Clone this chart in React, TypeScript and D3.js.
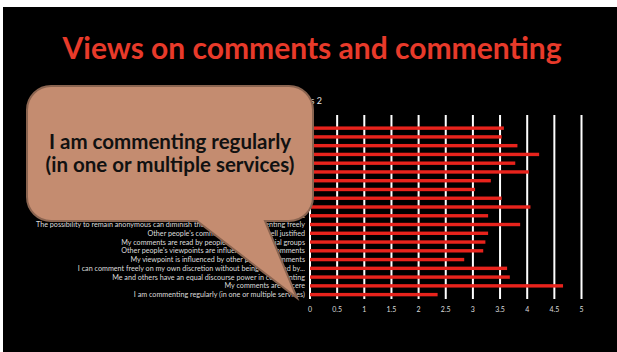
import React from "react";
import * as d3 from "d3";

const title = "Views on comments and commenting";
const chartTitle = "Series 2";
const calloutLines = ["I am commenting regularly", "(in one or multiple services)"];

// categories listed top to bottom as displayed
const categories = [
  "",
  "Comments add value to news articles",
  "I read other people's comments regularly",
  "Comments help me to understand different viewpoints",
  "Commenting should be possible in online news services",
  "Moderation of comments is necessary",
  "Discussion in comments is often heated",
  "I comment under my own name",
  "I get feedback on my comments",
  "Comments are often off topic",
  "Inappropriate comments should be removed",
  "Commenting is easy in the services I use",
  "The possibility to remain anonymous can diminish the threshold of commenting freely",
  "Other people's comments are usually well justified",
  "My comments are read by people in different social groups",
  "Other people's viewpoints are influenced by my comments",
  "My viewpoint is influenced by other people's comments",
  "I can comment freely on my own discretion without being restricted by...",
  "Me and others have an equal discourse power in commenting",
  "My comments are sincere",
  "I am commenting regularly (in one or multiple services)",
];

const values: (number | null)[] = [
  null, 3.57, 3.53, 3.82, 4.22, 3.78, 4.03, 3.33, 3.04, 3.53, 4.06,
  3.28, 3.87, 3.28, 3.23, 3.19, 2.84, 3.63, 3.68, 4.66, 2.35,
];

const xTicks = [0, 0.5, 1, 1.5, 2, 2.5, 3, 3.5, 4, 4.5, 5];
const tickLabels = ["0", "0.5", "1", "1.5", "2", "2.5", "3", "3.5", "4", "4.5", "5"];

export default function App() {
  const W = 617, H = 352;
  const x = d3.scaleLinear().domain([0, 5]).range([310, 581.5]);
  const idx = categories.map((_, i) => String(i));
  const y = d3.scaleBand().domain(idx).range([115, 299]).padding(0);
  const barH = 3.4;

  // callout bubble
  const bx0 = 27, bx1 = 313, by0 = 86, by1 = 221, r = 24;
  const p = d3.path();
  p.moveTo(bx0 + r, by0);
  p.lineTo(bx1 - r, by0);
  p.arcTo(bx1, by0, bx1, by0 + r, r);
  p.lineTo(bx1, by1 - r);
  p.arcTo(bx1, by1, bx1 - r, by1, r);
  p.lineTo(265, by1);
  p.lineTo(297, 298);
  p.lineTo(197, by1);
  p.lineTo(bx0 + r, by1);
  p.arcTo(bx0, by1, bx0, by1 - r, r);
  p.lineTo(bx0, by0 + r);
  p.arcTo(bx0, by0, bx0 + r, by0, r);
  p.closePath();

  return (
    <svg width={W} height={H} style={{ position: "absolute", left: 0, top: 0 }}>
      <rect x={0} y={0} width={W} height={H} fill="#ffffff" />
      <rect x={3} y={7} width={W - 3} height={H - 7} fill="#000000" />
      <text
        x={312}
        y={59}
        textAnchor="middle"
        fill="#e83a2a"
        fontFamily="Lato, 'Open Sans', sans-serif"
        fontWeight={700}
        fontSize={30}
      >
        {title}
      </text>
      <text x={322} y={104} textAnchor="end" fill="#e6e6e6" fontFamily="Lato, sans-serif" fontSize={9}>
        {chartTitle}
      </text>
      {xTicks.map((t) => (
        <line key={"g" + t} x1={x(t)} x2={x(t)} y1={115} y2={299} stroke="#ffffff" strokeWidth={2} />
      ))}
      {values.map((v, i) =>
        v == null ? null : (
          <rect
            key={"b" + i}
            x={x(0)}
            y={(y(String(i)) as number) + y.bandwidth() / 2 - barH / 2}
            width={x(v) - x(0)}
            height={barH}
            fill="#e8231c"
          />
        )
      )}
      {categories.map((c, i) => (
        <text
          key={"l" + i}
          x={305}
          y={(y(String(i)) as number) + y.bandwidth() / 2 + 2.5}
          textAnchor="end"
          fill="#dcdcdc"
          fontFamily="Lato, sans-serif"
          fontSize={7.2}
        >
          {c}
        </text>
      ))}
      {xTicks.map((t, i) => (
        <text
          key={"t" + t}
          x={x(t)}
          y={311.5}
          textAnchor="middle"
          fill="#dcdcdc"
          fontFamily="Lato, sans-serif"
          fontSize={7}
        >
          {tickLabels[i]}
        </text>
      ))}
      <path d={p.toString()} fill="#c48c70" stroke="#8a6450" strokeWidth={2} />
      {calloutLines.map((l, i) => (
        <text
          key={"c" + i}
          x={170}
          y={148.5 + i * 23}
          textAnchor="middle"
          fill="#111111"
          fontFamily="Lato, sans-serif"
          fontWeight={700}
          fontSize={20.5}
        >
          {l}
        </text>
      ))}
    </svg>
  );
}
